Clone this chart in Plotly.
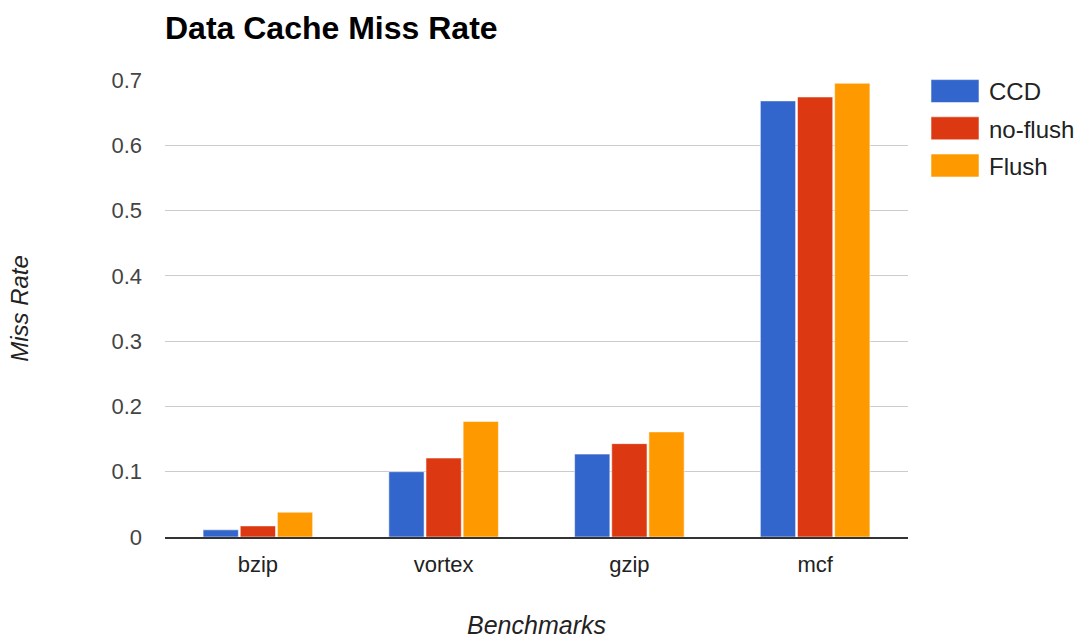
import plotly.graph_objects as go

categories = ["bzip", "vortex", "gzip", "mcf"]
series_names = ["CCD", "no-flush", "Flush"]
ccd = [0.011, 0.100, 0.127, 0.668]
no_flush = [0.017, 0.121, 0.143, 0.674]
flush = [0.038, 0.177, 0.161, 0.695]
colors = ["#3366CC", "#DC3912", "#FF9900"]
y_ticks = [0, 0.1, 0.2, 0.3, 0.4, 0.5, 0.6, 0.7]

FONT = "Arial, 'Liberation Sans', sans-serif"

fig = go.Figure()
for name, vals, col in zip(series_names, [ccd, no_flush, flush], colors):
    fig.add_trace(go.Bar(
        x=categories, y=vals, name=name, legendgroup=name,
        marker=dict(color=col, line=dict(color="rgba(255,255,255,0.55)", width=1)),
    ))

fig.update_layout(
    width=1086, height=639,
    margin=dict(l=165, r=178, t=80, b=102, autoexpand=False),
    paper_bgcolor="white", plot_bgcolor="white",
    font=dict(family=FONT, color="#444444"),
    barmode="group", bargap=0.4, bargroupgap=0.05,
    title=dict(text="<b>Data Cache Miss Rate</b>", font=dict(size=32, color="#000000", family=FONT),
               xref="paper", x=0, xanchor="left", yref="container", y=1 - 28 / 639, yanchor="middle"),
    legend=dict(xref="container", yref="container", x=926 / 1086, xanchor="left",
                y=1 - 69 / 639, yanchor="top", font=dict(size=24, color="#222222"),
                itemwidth=53, tracegroupgap=3, traceorder="grouped", bgcolor="rgba(0,0,0,0)"),
    showlegend=True,
)
fig.update_xaxes(
    automargin=False,
    showgrid=False, showline=True, linecolor="#333333", linewidth=2,
    tickfont=dict(size=22, color="#222222"), ticks="", ticklabelstandoff=7,
    title=dict(text="<i>Benchmarks</i>", font=dict(size=25, color="#222222"), standoff=43),
)
fig.update_yaxes(
    automargin=False,
    range=[0, 0.7], tickvals=y_ticks, showgrid=True, gridcolor="#cccccc", gridwidth=1,
    zeroline=False, showline=False,
    tickfont=dict(size=22, color="#444444"), ticks="", ticklabelstandoff=22,
    title=dict(text="<i>Miss Rate</i>", font=dict(size=24, color="#222222"), standoff=76),
)

post = """
var gd = document.getElementById('{plot_id}');
function bigSwatches(){
  var paths = gd.querySelectorAll('.legend .traces .legendpoints path');
  paths.forEach(function(p){
    p.setAttribute('d', 'M24,11.5H-24V-11.5H24Z');
    p.setAttribute('transform', 'translate(29,0)');
  });
}
bigSwatches();
"""
fig.write_html("out.html", post_script=post)
